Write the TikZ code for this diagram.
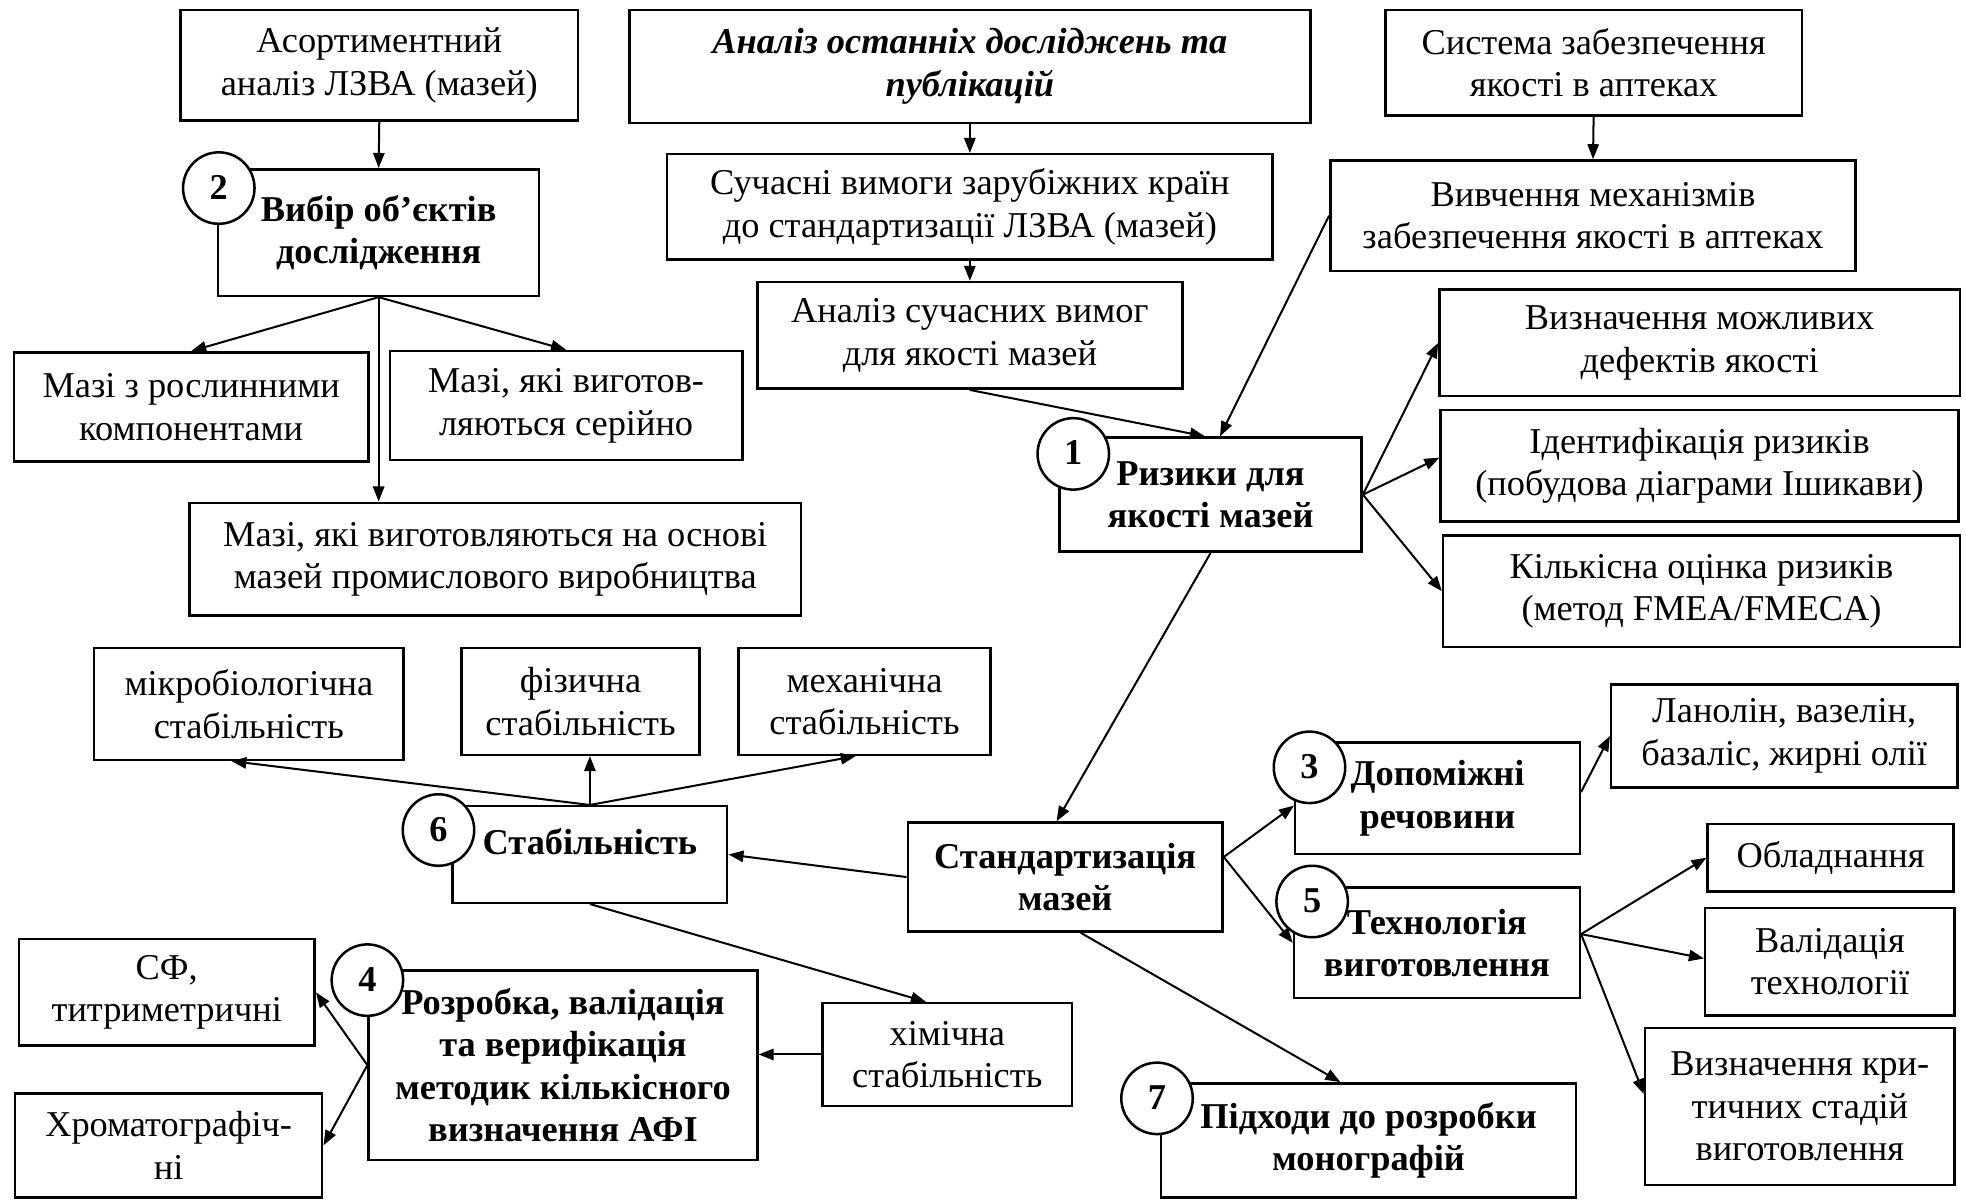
\documentclass[tikz,border=0pt]{standalone}
\usepackage{fontspec}
\setmainfont{Liberation Serif}
\usetikzlibrary{arrows.meta,calc}
\newcommand{\myfs}{\fontsize{14.5}{17}\selectfont}
\begin{document}
\begin{tikzpicture}[x=0.5pt,y=-0.5pt,
  bx/.style={draw,line width=1pt,inner sep=0pt,align=center,font=\myfs},
  bb/.style={bx,font=\myfs\bfseries},
  lbl/.style={inner sep=0pt,align=center,font=\myfs\bfseries},
  num/.style={circle,draw,fill=white,line width=1pt,minimum size=28.5pt,inner sep=0pt,font=\myfs\bfseries,text height=0.88em,text depth=0pt},
  ar/.style={-{Triangle[length=6pt,width=4.5pt]},line width=0.8pt},
  ln/.style={line width=0.8pt}
]
\fill[white] (0,0) rectangle (1568,957);
\useasboundingbox (0,0) rectangle (1568,957);

% top row
\node[bx,minimum width=158.5pt,minimum height=44pt] (asort) at (302.5,52) {Асортиментний\\аналіз ЛЗВА (мазей)};
\node[bx,font=\myfs\bfseries\itshape,minimum width=271.5pt,minimum height=45pt] (analizost) at (773.5,53) {Аналіз останніх досліджень та\\публікацій};
\node[bx,minimum width=166pt,minimum height=42pt] (systema) at (1271,50) {Система забезпечення\\якості в аптеках};

\node[bb,minimum width=128pt,minimum height=50.5pt] (vybir) at (302,185.5) {Вибір об’єктів\\дослідження};
\node[bx,minimum width=241.5pt,minimum height=42pt] (suchasni) at (773.5,165) {Сучасні вимоги зарубіжних країн\\до стандартизації ЛЗВА (мазей)};
\node[bx,minimum width=209.5pt,minimum height=44pt] (vyvch) at (1270.5,172) {Вивчення механізмів\\забезпечення якості в аптеках};
\node[bx,minimum width=169.5pt,minimum height=42.5pt] (analizsuch) at (773.5,267.5) {Аналіз сучасних вимог\\для якості мазей};
\node[bx,minimum width=207.5pt,minimum height=42.5pt] (vyznmozhl) at (1355.5,273.5) {Визначення можливих\\дефектів якості};

\node[bx,minimum width=141.5pt,minimum height=43.5pt] (mazirosl) at (152.5,324.5) {Мазі з рослинними\\компонентами};
\node[bx,minimum width=140.5pt,minimum height=43.5pt] (maziser) at (451.5,323.5) {Мазі, які виготов-\\ляються серійно};
\node[bb,minimum width=120.5pt,minimum height=45.5pt] (ryzyky) at (965.5,394.5) {Ризики для\\якості мазей};
\node[bx,minimum width=206.5pt,minimum height=44.5pt] (ident) at (1355.5,371.5) {Ідентифікація ризиків\\(побудова діаграми Ішикави)};
\node[bx,minimum width=244pt,minimum height=45pt] (maziprom) at (395,446) {Мазі, які виготовляються на основі\\мазей промислового виробництва};
\node[bx,minimum width=206pt,minimum height=44.5pt] (kilk) at (1357,471.5) {Кількісна оцінка ризиків\\(метод FMEA/FMECA)};

\node[bx,minimum width=123.5pt,minimum height=44.5pt] (mikro) at (198.5,561.5) {мікробіологічна\\стабільність};
\node[bx,minimum width=95pt,minimum height=42.5pt] (fiz) at (463,559.5) {фізична\\стабільність};
\node[bx,minimum width=100.5pt,minimum height=42.5pt] (mekh) at (689.5,559.5) {механічна\\стабільність};
\node[bx,minimum width=138pt,minimum height=41pt] (lanolin) at (1423,587) {Ланолін, вазелін,\\базаліс, жирні олії};

\node[bb,minimum width=113.5pt,minimum height=44.5pt] (dopom) at (1146.5,636.5) {Допоміжні\\речовини};
\node[bx,minimum width=109.5pt,minimum height=38.5pt] (stab) at (470.5,681.5) {};
\node[lbl] (stabt) at (470.5,671.6) {Стабільність};
\node[bb,minimum width=125.5pt,minimum height=43.5pt] (standart) at (849.5,699.5) {Стандартизація\\мазей};
\node[bx,minimum width=98pt,minimum height=27pt] (obladn) at (1460,684) {Обладнання};
\node[bb,minimum width=114pt,minimum height=44pt] (tekhn) at (1146,752) {Технологія\\виготовлення};
\node[bx,minimum width=99.5pt,minimum height=43pt] (valid) at (1459.5,767) {Валідація\\технології};

\node[bx,minimum width=118pt,minimum height=42.5pt] (sf) at (133,791.5) {СФ,\\титриметричні};
\node[bb,minimum width=155pt,minimum height=75.5pt] (rozrobka) at (449,849.5) {Розробка, валідація\\та верифікація\\методик кількісного\\визначення АФІ};
\node[bx,minimum width=99.5pt,minimum height=41pt] (khim) at (755.5,841) {хімічна\\стабільність};
\node[bx,minimum width=122.5pt,minimum height=41.5pt] (khrom) at (134.5,913.5) {Хроматографіч-\\ні};
\node[bx,minimum width=123.5pt,minimum height=62.5pt] (vyznkryt) at (1435.5,882.5) {Визначення кри-\\тичних стадій\\виготовлення};
\node[bb,minimum width=165.5pt,minimum height=45.5pt] (pidkhody) at (1091.5,909.5) {Підходи до розробки\\монографій};

% connectors
\draw[ar] (asort.south) -- (vybir.north);
\draw[ar] (analizost.south) -- (suchasni.north);
\draw[ar] (suchasni.south) -- (analizsuch.north);
\draw[ar] (systema.south) -- (vyvch.north);
\draw[ar] (vybir.south) -- (mazirosl.north);
\draw[ar] (vybir.south) -- (maziser.north);
\draw[ar] (vybir.south) -- (vybir.south |- maziprom.north);
\draw[ar] (analizsuch.south) -- ([xshift=-2.25pt]ryzyky.north);
\draw[ar] (vyvch.west) -- ([xshift=3.75pt]ryzyky.north);
\draw[ar] (ryzyky.east) -- (vyznmozhl.west);
\draw[ar] (ryzyky.east) -- ([yshift=3.25pt]ident.west);
\draw[ar] (ryzyky.east) -- (kilk.west);
\draw[ar] (ryzyky.south) -- ([xshift=-3.4pt]standart.north);
\draw[ar] (standart.west) -- (stab.east);
\draw[ar] (stab.north) -- ([xshift=-7pt]mikro.south);
\draw[ar] (stab.north) -- (stab.north |- fiz.south);
\draw[ar] (stab.north) -- ([xshift=-3.5pt]mekh.south);
\draw[ar] (stab.south) -- ([xshift=-8.5pt]khim.north);
\draw[ar] (khim.west) -- (khim.west -| rozrobka.east);
\draw[ar] (rozrobka.west) -- (sf.east);
\draw[ar] (rozrobka.west) -- (khrom.east);
\draw[ar] ([yshift=8pt]standart.east) -- ([yshift=-3pt]dopom.west);
\draw[ar] ([yshift=8pt]standart.east) -- (tekhn.west);
\draw[ar] ([yshift=2.4pt]dopom.east) -- (lanolin.west);
\draw[ar] ([yshift=3.5pt]tekhn.east) -- (obladn.west);
\draw[ar] ([yshift=3.5pt]tekhn.east) -- ([yshift=1.3pt]valid.west);
\draw[ar] ([yshift=3.5pt]tekhn.east) -- ([yshift=5pt]vyznkryt.west);
\draw[ar] ([xshift=6.25pt]standart.south) -- ([xshift=-11.25pt]pidkhody.north);

% numbered circles
\node[num] (n1) at (856,362) {1};
\node[num] (n2) at (174.5,150) {2};
\node[num] (n3) at (1044.4,612) {3};
\node[num] (n4) at (293,781.7) {4};
\node[num] (n5) at (1046.5,719) {5};
\node[num] (n6) at (349.7,662) {6};
\node[num] (n7) at (922.8,876) {7};
\end{tikzpicture}
\end{document}
